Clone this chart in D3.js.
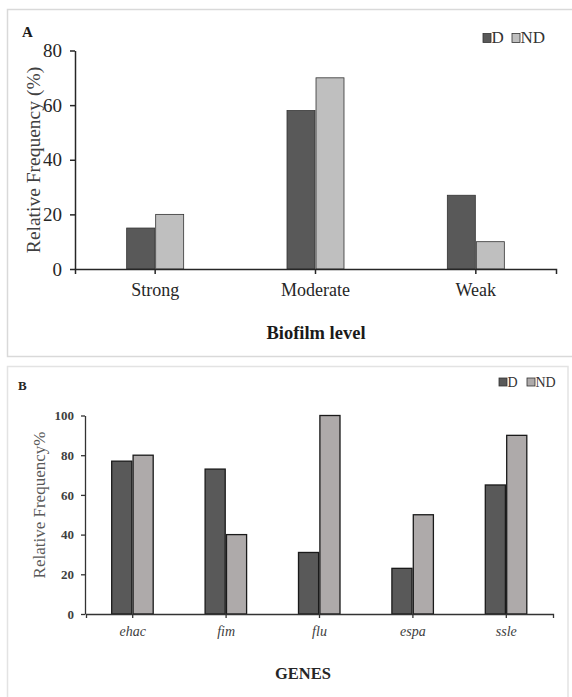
<!DOCTYPE html>
<html>
<head>
<meta charset="utf-8">
<script src="https://cdn.jsdelivr.net/npm/d3@7"></script>
<style>
  body { margin: 0; background: #fff; }
  svg { display: block; }
</style>
</head>
<body>
<div id="chart"></div>
<script>
// panel A data: biofilm level
var biofilmLevels = ["Strong", "Moderate", "Weak"];
var seriesNames = ["D", "ND"];
var biofilmD = [15, 58, 27];
var biofilmND = [20, 70, 10];
var biofilmTicks = [0, 20, 40, 60, 80];

// panel B data: genes
var genes = ["ehac", "fim", "flu", "espa", "ssle"];
var genesD = [77, 73, 31, 23, 65];
var genesND = [80, 40, 100, 50, 90];
var genesTicks = [0, 20, 40, 60, 80, 100];

var serif = "'Liberation Serif', 'Times New Roman', serif";

var svg = d3.select("#chart").append("svg")
            .attr("width", 572)
            .attr("height", 697);

svg.append("rect").attr("width", 572).attr("height", 697).style("fill", "#fff");

// frames round the two panels
svg.append("rect").attr("x", 7.5).attr("y", 9.5).attr("width", 570).attr("height", 347)
   .style("fill", "none").style("stroke", "#d9d9d9").style("stroke-width", 1.5);
svg.append("rect").attr("x", 7.5).attr("y", 366.5).attr("width", 560.5).attr("height", 345)
   .style("fill", "none").style("stroke", "#e3e3e3").style("stroke-width", 1.5);

/* ---------- panel A ---------- */
var xA = d3.scaleBand().domain(biofilmLevels).range([75, 556]);
var sA = d3.scaleBand().domain(seriesNames).range([-28.5, 28.5]).paddingInner(0.035);
var yA = d3.scaleLinear().domain([0, 80]).range([269, 50.5]);
var colorA = { "D": "#595959", "ND": "#bfbfbf" };

var rowsA = biofilmLevels.map(function(c, i) { return { cat: c, D: biofilmD[i], ND: biofilmND[i] }; });

var gA = svg.append("g").attr("class", "panel-a");

rowsA.forEach(function(r) {
  seriesNames.forEach(function(s) {
    gA.append("rect")
      .attr("x", xA(r.cat) + xA.bandwidth() / 2 + sA(s))
      .attr("y", yA(r[s]))
      .attr("width", sA.bandwidth())
      .attr("height", yA(0) - yA(r[s]))
      .style("fill", colorA[s])
      .style("stroke", "#333")
      .style("stroke-width", 0.8);
  });
});

var yAxisA = gA.append("g").attr("transform", "translate(75,0)")
   .call(d3.axisLeft(yA).tickValues(biofilmTicks).tickSize(5).tickPadding(8).tickSizeOuter(0));
yAxisA.selectAll("text").style("font-family", serif).style("font-size", "19px").style("fill", "#262626");

var xAxisA = gA.append("g").attr("transform", "translate(0,269)")
   .call(d3.axisBottom(xA).tickSize(5).tickPadding(9).tickSizeOuter(5));
xAxisA.selectAll("text").style("font-family", serif).style("font-size", "18px").style("fill", "#262626");

gA.selectAll(".domain, .tick line").style("stroke", "#262626").style("stroke-width", 1.5);

gA.append("text").attr("transform", "translate(40,160) rotate(-90)")
  .attr("text-anchor", "middle")
  .text("Relative Frequency (%)")
  .style("font-family", serif).style("font-size", "19.5px").style("fill", "#404040");

gA.append("text").attr("x", 316).attr("y", 339).attr("text-anchor", "middle")
  .text("Biofilm level")
  .style("font-family", serif).style("font-size", "18.5px").style("font-weight", "bold").style("fill", "#1a1a1a");

gA.append("text").attr("x", 22).attr("y", 37).text("A")
  .style("font-family", serif).style("font-size", "15px").style("font-weight", "bold").style("fill", "#1a1a1a");

// legend A
var legA = [{ s: "D", x: 483 }, { s: "ND", x: 512 }];
legA.forEach(function(l) {
  gA.append("rect").attr("x", l.x).attr("y", 33.5).attr("width", 8).attr("height", 9)
    .style("fill", colorA[l.s]).style("stroke", "#333").style("stroke-width", 0.8);
  gA.append("text").attr("x", l.x + 8.5).attr("y", 43).text(l.s)
    .style("font-family", serif).style("font-size", "17px").style("fill", "#333");
});

/* ---------- panel B ---------- */
var xB = d3.scaleBand().domain(genes).range([86, 553]);
var sB = d3.scaleBand().domain(seriesNames).range([-21, 20.5]).paddingInner(0.06);
var yB = d3.scaleLinear().domain([0, 100]).range([614, 415.5]);
var colorB = { "D": "#595959", "ND": "#aeaaaa" };

var rowsB = genes.map(function(g, i) { return { cat: g, D: genesD[i], ND: genesND[i] }; });

var gB = svg.append("g").attr("class", "panel-b");

rowsB.forEach(function(r) {
  seriesNames.forEach(function(s) {
    gB.append("rect")
      .attr("x", xB(r.cat) + xB.bandwidth() / 2 + sB(s))
      .attr("y", yB(r[s]))
      .attr("width", sB.bandwidth())
      .attr("height", yB(0) - yB(r[s]))
      .style("fill", colorB[s])
      .style("stroke", "#1a1a1a")
      .style("stroke-width", 1.3);
  });
});

var yAxisB = gB.append("g").attr("transform", "translate(85,0)")
   .call(d3.axisLeft(yB).tickValues(genesTicks).tickSize(4).tickPadding(7).tickSizeOuter(0));
yAxisB.selectAll("text").style("font-family", serif).style("font-size", "13px")
      .style("font-weight", "bold").style("fill", "#404040");

var xAxisB = gB.append("g").attr("transform", "translate(0,614)")
   .call(d3.axisBottom(xB).tickSize(4).tickPadding(8).tickSizeOuter(4));
xAxisB.selectAll("text").style("font-family", serif).style("font-size", "14px")
      .style("font-style", "italic").style("fill", "#404040");

gB.selectAll(".domain, .tick line").style("stroke", "#333").style("stroke-width", 1.3);

gB.append("text").attr("transform", "translate(45,505) rotate(-90)")
  .attr("text-anchor", "middle")
  .text("Relative Frequency%")
  .style("font-family", serif).style("font-size", "17px").style("fill", "#595959");

gB.append("text").attr("x", 303).attr("y", 679).attr("text-anchor", "middle")
  .text("GENES")
  .style("font-family", serif).style("font-size", "16.5px").style("font-weight", "bold").style("fill", "#262626");

gB.append("text").attr("x", 18).attr("y", 390).text("B")
  .style("font-family", serif).style("font-size", "13px").style("font-weight", "bold").style("fill", "#262626");

// legend B
var legB = [{ s: "D", x: 499 }, { s: "ND", x: 527 }];
legB.forEach(function(l) {
  gB.append("rect").attr("x", l.x).attr("y", 378).attr("width", 8).attr("height", 8)
    .style("fill", colorB[l.s]).style("stroke", "#333").style("stroke-width", 0.8);
  gB.append("text").attr("x", l.x + 8.5).attr("y", 386.5).text(l.s)
    .style("font-family", serif).style("font-size", "14px").style("fill", "#333");
});
</script>
</body>
</html>
